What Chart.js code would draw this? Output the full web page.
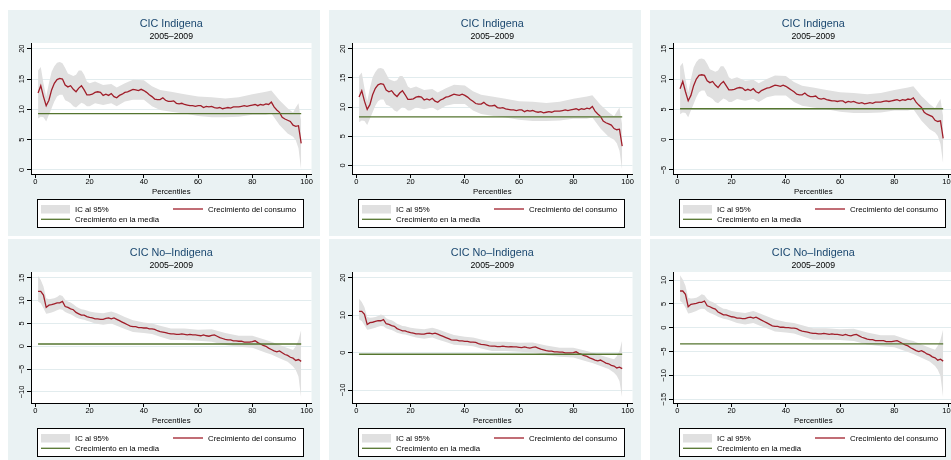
<!DOCTYPE html>
<html>
<head>
<meta charset="utf-8">
<script src="https://cdn.jsdelivr.net/npm/chart.js@4.4.1/dist/chart.umd.min.js"></script>
<style>
  html, body { margin: 0; padding: 0; background: #fff; width: 951px; height: 460px; overflow: hidden; }
  .panel { position: absolute; width: 312px; height: 226px; }
</style>
</head>
<body>
<div class="panel" style="left:8px;top:10px"><canvas id="c1"></canvas></div>
<div class="panel" style="left:329px;top:10px"><canvas id="c2"></canvas></div>
<div class="panel" style="left:650px;top:10px"><canvas id="c3"></canvas></div>
<div class="panel" style="left:8px;top:239px"><canvas id="c4"></canvas></div>
<div class="panel" style="left:329px;top:239px"><canvas id="c5"></canvas></div>
<div class="panel" style="left:650px;top:239px"><canvas id="c6"></canvas></div>
<script>
// percentiles of the growth incidence curve
var pct = [1,2,3,4,5,6,7,8,9,10,11,12,13,14,15,16,17,18,19,20,
  21,22,23,24,25,26,27,28,29,30,31,32,33,34,35,36,37,38,39,40,
  41,42,43,44,45,46,47,48,49,50,51,52,53,54,55,56,57,58,59,60,
  61,62,63,64,65,66,67,68,69,70,71,72,73,74,75,76,77,78,79,80,
  81,82,83,84,85,86,87,88,89,90,91,92,93,94,95,96,97,98];

// percentiles where the 95% band edges were read
var ciPct = [1,2,3,4,5,6,7,8,9,10,11,12,13,14,15,16,17,18,19,20,
  22,25,28,30,33,36,40,43,46,50,55,60,65,70,75,80,85,87,90,93,95,96,97,98];

var xTicks = [0, 20, 40, 60, 80, 100];

// CIC Indigena, three versions
var growthInd1 = [12.7,13.9,12.1,10.6,11.5,13.2,14.3,14.9,15.1,15.0,
  14.0,13.7,13.9,13.3,12.9,13.5,13.9,13.2,12.4,12.4,
  12.5,12.8,12.9,12.8,12.3,12.5,12.3,12.6,12.1,11.9,
  12.3,12.5,12.8,12.9,13.1,13.3,13.2,13.1,13.3,13.1,
  12.8,12.4,12.1,11.7,11.6,11.6,11.9,11.5,11.3,11.3,
  11.4,11.0,10.9,11.0,10.8,10.7,10.6,10.6,10.5,10.6,
  10.6,10.3,10.5,10.4,10.5,10.3,10.2,10.3,10.1,10.2,
  10.3,10.2,10.4,10.4,10.4,10.5,10.6,10.5,10.6,10.7,
  10.8,10.6,10.8,10.7,10.9,10.8,11.2,10.4,9.9,9.5,
  8.7,8.4,8.2,8.0,7.4,7.2,7.3,4.4];
var hiInd1 = [16.4,17.0,14.3,12.1,14.3,16.2,17.1,17.7,17.8,17.6,
  16.8,15.9,15.7,15.5,15.7,16.4,16.4,15.7,14.6,14.3,
  14.6,14.0,14.2,13.6,14.3,14.9,14.8,13.8,13.2,12.9,
  12.5,12.1,12.0,11.8,12.0,12.5,12.9,13.1,11.5,10.2,9.5,10.3,11.0,8.0];
var loInd1 = [8.5,8.8,8.7,8.0,9.1,10.2,11.3,12.1,12.4,12.4,
  11.5,11.3,11.0,10.5,10.3,10.7,11.1,10.9,10.5,10.5,
  11.0,10.7,11.0,10.5,11.3,11.6,11.6,10.5,9.9,9.6,
  9.3,8.9,8.7,8.7,8.8,9.1,9.1,9.3,7.4,6.0,5.5,4.9,3.6,-0.1];

var growthInd2 = [11.7,12.8,11.0,9.6,10.4,12.1,13.2,13.8,14.0,13.9,
  12.9,12.6,12.8,12.2,11.8,12.4,12.8,12.1,11.3,11.3,
  11.4,11.7,11.8,11.7,11.2,11.4,11.2,11.5,11.0,10.8,
  11.2,11.4,11.7,11.8,12.0,12.2,12.1,12.0,12.2,12.0,
  11.7,11.3,11.0,10.6,10.5,10.5,10.8,10.4,10.2,10.2,
  10.3,9.9,9.8,9.9,9.7,9.6,9.5,9.5,9.4,9.5,
  9.5,9.2,9.4,9.3,9.4,9.2,9.1,9.2,9.0,9.1,
  9.2,9.1,9.3,9.3,9.3,9.4,9.5,9.4,9.5,9.6,
  9.7,9.5,9.7,9.6,9.8,9.7,10.1,9.3,8.8,8.4,
  7.6,7.3,7.1,6.9,6.3,6.1,6.2,3.3];
var hiInd2 = [15.3,15.9,13.2,11.0,13.2,15.1,16.0,16.6,16.7,16.5,
  15.7,14.8,14.6,14.4,14.6,15.3,15.3,14.6,13.5,13.2,
  13.5,12.9,13.1,12.5,13.2,13.8,13.7,12.7,12.1,11.8,
  11.4,11.0,10.9,10.7,10.9,11.4,11.8,12.0,10.4,9.1,8.4,9.2,9.9,6.9];
var loInd2 = [7.4,7.7,7.6,6.9,8.0,9.1,10.2,11.0,11.3,11.3,
  10.4,10.2,9.9,9.4,9.2,9.6,10.0,9.8,9.4,9.4,
  9.9,9.6,9.9,9.4,10.2,10.5,10.5,9.4,8.8,8.5,
  8.2,7.8,7.6,7.6,7.7,8.0,8.0,8.2,6.3,4.9,4.4,3.8,2.5,-0.9];

var growthInd3 = [8.4,9.6,7.9,6.4,7.3,8.9,10.0,10.6,10.7,10.6,
  9.7,9.4,9.6,9.0,8.6,9.2,9.6,8.9,8.2,8.2,
  8.3,8.5,8.6,8.5,8.1,8.3,8.1,8.4,7.9,7.7,
  8.1,8.3,8.5,8.6,8.8,9.0,8.9,8.8,9.0,8.8,
  8.5,8.2,7.9,7.5,7.4,7.4,7.7,7.3,7.1,7.1,
  7.2,6.8,6.7,6.8,6.6,6.5,6.4,6.4,6.3,6.4,
  6.4,6.1,6.3,6.2,6.3,6.1,6.0,6.1,5.9,6.0,
  6.1,6.0,6.2,6.2,6.2,6.3,6.4,6.3,6.4,6.5,
  6.6,6.4,6.6,6.5,6.7,6.6,6.9,6.2,5.7,5.3,
  4.5,4.2,4.0,3.8,3.2,3.0,3.1,0.2];
var hiInd3 = [12.1,12.7,10.0,7.8,10.0,11.9,12.8,13.3,13.4,13.2,
  12.5,11.6,11.4,11.2,11.4,12.1,12.1,11.4,10.3,10.0,
  10.3,9.7,9.9,9.3,10.0,10.6,10.5,9.5,8.9,8.6,
  8.2,7.8,7.7,7.5,7.7,8.2,8.6,8.8,7.2,5.9,5.2,6.0,6.7,3.8];
var loInd3 = [4.2,4.5,4.4,3.7,4.8,5.9,7.0,7.8,8.1,8.1,
  7.2,7.0,6.7,6.2,6.0,6.4,6.8,6.6,6.2,6.2,
  6.7,6.4,6.7,6.2,7.0,7.3,7.3,6.2,5.6,5.3,
  5.0,4.6,4.4,4.4,4.5,4.8,4.8,5.0,3.1,1.7,1.2,0.6,-0.7,-4.0];

// CIC No-Indigena, three versions
var growthNo1 = [12.0,12.0,11.2,8.5,9.0,9.1,9.3,9.5,9.5,9.8,
  8.7,8.5,8.2,8.0,7.4,7.1,6.8,6.8,6.5,6.3,
  6.2,6.0,6.0,5.9,5.9,6.1,6.2,6.0,6.2,5.9,
  5.6,5.3,5.0,4.7,4.4,4.3,4.3,4.1,4.1,4.0,
  4.0,3.8,3.8,3.7,3.4,3.2,3.1,3.0,2.8,2.7,
  2.7,2.6,2.6,2.7,2.6,2.5,2.6,2.5,2.5,2.4,
  2.3,2.5,2.3,2.2,2.4,2.5,2.2,1.9,1.7,1.5,
  1.4,1.4,1.2,1.2,1.1,1.1,0.9,0.9,0.9,1.0,
  1.2,0.8,0.5,0.2,0.0,-0.4,-0.7,-1.0,-1.2,-1.0,
  -1.4,-1.8,-2.0,-2.4,-2.6,-3.1,-2.9,-3.3];
var hiNo1 = [15.4,14.5,13.1,10.5,10.3,10.4,10.5,10.8,11.2,11.0,
  10.2,9.8,9.6,9.2,8.7,8.4,8.1,8.0,7.8,7.6,
  7.4,7.2,7.6,7.2,6.4,5.7,5.2,5.0,4.5,3.9,
  3.9,3.6,3.7,2.9,2.3,2.3,1.4,1.0,0.3,-0.4,-0.8,0.0,1.4,3.6];
var loNo1 = [9.8,9.4,8.3,7.1,7.2,7.4,7.6,7.9,8.1,8.0,
  7.5,7.2,7.0,6.7,6.3,6.1,5.9,5.8,5.6,5.4,
  5.0,4.7,5.0,4.5,3.8,3.1,2.9,2.7,2.1,1.4,
  1.4,1.2,1.0,0.3,-0.1,-0.3,-1.4,-1.8,-2.6,-3.4,-4.4,-5.2,-6.6,-11.4];

var growthNo2 = [11.0,11.0,10.2,7.5,8.0,8.1,8.3,8.5,8.5,8.8,
  7.7,7.5,7.2,7.0,6.4,6.1,5.8,5.8,5.5,5.3,
  5.2,5.0,5.0,4.9,4.9,5.1,5.2,5.0,5.2,4.9,
  4.6,4.3,4.0,3.7,3.4,3.3,3.3,3.1,3.1,3.0,
  3.0,2.8,2.8,2.7,2.4,2.2,2.1,2.0,1.8,1.7,
  1.7,1.6,1.6,1.7,1.6,1.5,1.6,1.5,1.5,1.4,
  1.3,1.5,1.3,1.2,1.4,1.5,1.2,0.9,0.7,0.5,
  0.4,0.4,0.2,0.2,0.1,0.1,-0.1,-0.1,-0.1,0.0,
  0.2,-0.2,-0.5,-0.8,-1.0,-1.4,-1.7,-2.0,-2.2,-2.0,
  -2.4,-2.8,-3.0,-3.4,-3.6,-4.1,-3.9,-4.3];
var hiNo2 = [14.4,13.5,12.1,9.5,9.3,9.4,9.5,9.8,10.2,10.0,
  9.2,8.8,8.6,8.2,7.7,7.4,7.1,7.0,6.8,6.6,
  6.4,6.2,6.6,6.2,5.4,4.7,4.2,4.0,3.5,2.9,
  2.9,2.6,2.7,1.9,1.3,1.3,0.4,0.0,-0.7,-1.4,-1.8,-1.0,0.4,3.3];
var loNo2 = [8.8,8.4,7.3,6.1,6.2,6.4,6.6,6.9,7.1,7.0,
  6.5,6.2,6.0,5.7,5.3,5.1,4.9,4.8,4.6,4.4,
  4.0,3.7,4.0,3.5,2.8,2.1,1.9,1.7,1.1,0.4,
  0.4,0.2,0.0,-0.7,-1.1,-1.3,-2.4,-2.8,-3.6,-4.4,-5.4,-6.2,-7.6,-12.2];

var growthNo3 = [7.7,7.7,7.0,4.4,4.9,5.0,5.1,5.3,5.3,5.6,
  4.6,4.4,4.1,3.9,3.3,3.0,2.7,2.7,2.5,2.3,
  2.2,2.0,2.0,1.9,1.9,2.1,2.2,2.0,2.2,1.9,
  1.6,1.3,1.0,0.7,0.4,0.3,0.3,0.1,0.1,0.0,
  0.0,-0.1,-0.1,-0.2,-0.5,-0.7,-0.8,-0.9,-1.1,-1.2,
  -1.2,-1.3,-1.3,-1.2,-1.3,-1.4,-1.3,-1.4,-1.4,-1.5,
  -1.6,-1.4,-1.6,-1.7,-1.5,-1.4,-1.7,-2.0,-2.2,-2.4,
  -2.5,-2.5,-2.7,-2.7,-2.7,-2.7,-2.9,-2.9,-2.9,-2.8,
  -2.7,-3.0,-3.3,-3.6,-3.8,-4.2,-4.5,-4.8,-5.0,-4.8,
  -5.1,-5.5,-5.7,-6.1,-6.3,-6.8,-6.6,-7.0];
var hiNo3 = [11.0,10.1,8.8,6.3,6.1,6.2,6.3,6.6,7.0,6.8,
  6.0,5.6,5.4,5.1,4.6,4.3,4.0,3.9,3.7,3.5,
  3.3,3.1,3.5,3.1,2.4,1.7,1.2,1.0,0.5,-0.1,
  -0.1,-0.3,-0.2,-1.0,-1.6,-1.6,-2.5,-2.8,-3.5,-4.2,-4.6,-3.8,-2.5,-0.3];
var loNo3 = [5.6,5.2,4.2,3.0,3.1,3.3,3.5,3.8,4.0,3.9,
  3.4,3.1,2.9,2.6,2.3,2.1,1.9,1.8,1.6,1.4,
  1.0,0.7,1.0,0.5,-0.1,-0.8,-1.0,-1.2,-1.8,-2.5,
  -2.5,-2.6,-2.8,-3.5,-3.9,-4.1,-5.1,-5.5,-6.3,-7.1,-8.0,-8.8,-10.1,-14.8];

// mean growth, one per panel
var meanGrowth = [9.3, 8.3, 5.1, 0.5, -0.45, -3.4];

var yTicks1 = [0, 5, 10, 15, 20];
var yTicks2 = [0, 5, 10, 15, 20];
var yTicks3 = [-5, 0, 5, 10, 15];
var yTicks4 = [-10, -5, 0, 5, 10, 15];
var yTicks5 = [-10, 0, 10, 20];
var yTicks6 = [-15, -10, -5, 0, 5, 10];

var titleInd = 'CIC Indigena';
var titleNo = 'CIC No\u2013Indigena';
var subtitle = '2005\u20132009';

var panelBg = '#EAF2F3';
var gridColor = '#E2ECEE';
var bandColor = '#E0E0E0';
var red = '#A01E2A';
var green = '#55752F';
var navy = '#1A476F';
var fontFam = '"Liberation Sans", Arial, Helvetica, sans-serif';

var panels = [
  { id: 'c1', title: titleInd, growth: growthInd1, hi: hiInd1, lo: loInd1, mean: meanGrowth[0], yTicks: yTicks1, yMin: -0.66, yMax: 20.94 },
  { id: 'c2', title: titleInd, growth: growthInd2, hi: hiInd2, lo: loInd2, mean: meanGrowth[1], yTicks: yTicks2, yMin: -1.49, yMax: 20.98 },
  { id: 'c3', title: titleInd, growth: growthInd3, hi: hiInd3, lo: loInd3, mean: meanGrowth[2], yTicks: yTicks3, yMin: -5.66, yMax: 15.94 },
  { id: 'c4', title: titleNo, growth: growthNo1, hi: hiNo1, lo: loNo1, mean: meanGrowth[3], yTicks: yTicks4, yMin: -12.41, yMax: 16.25 },
  { id: 'c5', title: titleNo, growth: growthNo2, hi: hiNo2, lo: loNo2, mean: meanGrowth[4], yTicks: yTicks5, yMin: -13.47, yMax: 21.52 },
  { id: 'c6', title: titleNo, growth: growthNo3, hi: hiNo3, lo: loNo3, mean: meanGrowth[5], yTicks: yTicks6, yMin: -15.78, yMax: 11.68 }
];

function toPoints(xs, ys) {
  return xs.map(function (x, i) { return { x: x, y: ys[i] }; });
}

function fmt(v) {
  return String(v).replace('-', '\u2212');
}

// Stata-like frame: background, titles, tick labels and boxed legend
function decor(p) {
  return {
    id: 'decor',
    beforeDraw: function (chart) {
      var c = chart.ctx, a = chart.chartArea;
      c.save();
      c.fillStyle = panelBg;
      c.fillRect(0, 0, chart.width, chart.height);
      c.fillStyle = '#fff';
      c.fillRect(a.left, a.top, a.right - a.left, a.bottom - a.top);
      c.restore();
    },
    afterDraw: function (chart) {
      var c = chart.ctx, a = chart.chartArea;
      var xs = chart.scales.x, ys = chart.scales.y;
      var cx = (a.left + a.right) / 2;
      c.save();
      c.textBaseline = 'alphabetic';
      c.textAlign = 'center';

      c.fillStyle = navy;
      c.font = '10.8px ' + fontFam;
      c.fillText(p.title, cx, 16.8);
      c.fillStyle = '#000';
      c.font = '8.7px ' + fontFam;
      c.fillText(subtitle, cx, 29);

      c.font = '7.5px ' + fontFam;
      xTicks.forEach(function (v) {
        c.fillText(fmt(v), xs.getPixelForValue(v), a.bottom + 10.3);
      });
      p.yTicks.forEach(function (v) {
        c.save();
        c.translate(a.left - 7, ys.getPixelForValue(v));
        c.rotate(-Math.PI / 2);
        c.fillText(fmt(v), 0, 0);
        c.restore();
      });

      c.font = '7.8px ' + fontFam;
      c.fillText('Percentiles', cx, a.bottom + 20);

      // legend
      c.fillStyle = '#fff';
      c.fillRect(29.5, 189.5, 266, 28);
      c.strokeStyle = '#000';
      c.lineWidth = 1;
      c.strokeRect(29.5, 189.5, 266, 28);
      c.fillStyle = bandColor;
      c.fillRect(33, 195, 29, 8.5);
      c.lineWidth = 1.3;
      c.strokeStyle = red;
      c.beginPath(); c.moveTo(165, 199); c.lineTo(195, 199); c.stroke();
      c.strokeStyle = green;
      c.beginPath(); c.moveTo(33, 209.3); c.lineTo(62, 209.3); c.stroke();
      c.fillStyle = '#000';
      c.textAlign = 'left';
      c.fillText('IC al 95%', 67, 201.7);
      c.fillText('Crecimiento del consumo', 200, 201.7);
      c.fillText('Crecimiento en la media', 67, 211.7);
      c.restore();
    }
  };
}

function makeChart(p) {
  var ctx = document.getElementById(p.id).getContext('2d');
  return new Chart(ctx, {
    type: 'line',
    data: {
      datasets: [{
        label: 'Crecimiento en la media',
        data: [{ x: pct[0], y: p.mean }, { x: pct[pct.length - 1], y: p.mean }],
        borderColor: green,
        borderWidth: 1.3,
        pointRadius: 0,
        fill: false
      }, {
        label: 'Crecimiento del consumo',
        data: toPoints(pct, p.growth),
        borderColor: red,
        borderWidth: 1.3,
        pointRadius: 0,
        fill: false
      }, {
        label: 'IC al 95%',
        data: toPoints(ciPct, p.hi),
        borderColor: 'rgba(0,0,0,0)',
        backgroundColor: bandColor,
        pointRadius: 0,
        fill: '+1'
      }, {
        label: 'IC inferior',
        data: toPoints(ciPct, p.lo),
        borderColor: 'rgba(0,0,0,0)',
        pointRadius: 0,
        fill: false
      }]
    },
    options: {
      responsive: true,
      maintainAspectRatio: false,
      animation: false,
      events: [],
      layout: { padding: { left: 0, top: 33, right: 8.5, bottom: 0 } },
      plugins: {
        legend: { display: false },
        tooltip: { enabled: false },
        title: { display: false }
      },
      scales: {
        x: {
          type: 'linear',
          min: -1.6,
          max: 101.8,
          afterBuildTicks: function (s) { s.ticks = xTicks.map(function (v) { return { value: v }; }); },
          afterFit: function (s) { s.height = 62; },
          ticks: { display: false },
          grid: { drawOnChartArea: false, tickLength: 4, tickColor: '#000', tickWidth: 1 },
          border: { color: '#000', width: 1 }
        },
        y: {
          min: p.yMin,
          max: p.yMax,
          afterBuildTicks: function (s) { s.ticks = p.yTicks.map(function (v) { return { value: v }; }); },
          afterFit: function (s) { s.width = 23; },
          ticks: { display: false },
          grid: { color: gridColor, tickLength: 4, tickColor: '#000', tickWidth: 1 },
          border: { color: '#000', width: 1 }
        }
      }
    },
    plugins: [decor(p)]
  });
}

panels.forEach(makeChart);
</script>
</body>
</html>
